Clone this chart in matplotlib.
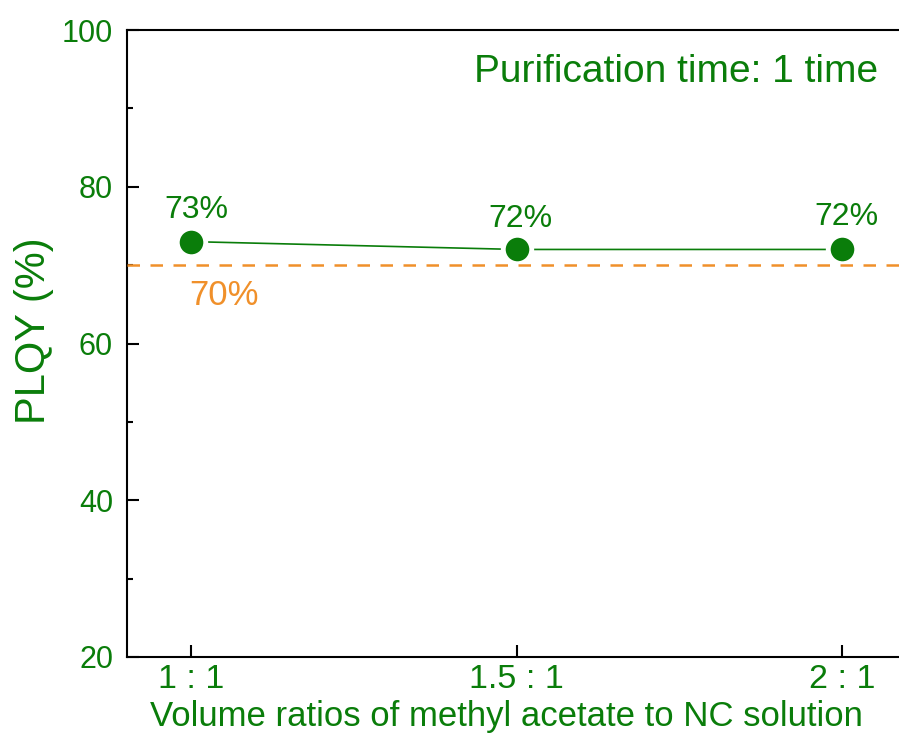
import matplotlib
matplotlib.use("Agg")
import matplotlib.pyplot as plt
from matplotlib.ticker import MultipleLocator

plt.rcParams['font.family'] = ['Liberation Sans', 'DejaVu Sans']

categories = ["1 : 1", "1.5 : 1", "2 : 1"]
plqy = [73, 72, 72]
labels = ["73%", "72%", "72%"]
ref_value = 70
ref_label = "70%"
annotation = "Purification time: 1 time"
xlabel = "Volume ratios of methyl acetate to NC solution"
ylabel = "PLQY (%)"

green = "#0a7d0a"
orange = "#f0902a"

W, H = 899, 735
L, R, T, B = 127, 907, 30, 657
fig = plt.figure(figsize=(W/100, H/100), dpi=100)
ax = fig.add_axes([L/W, (H-B)/H, (R-L)/W, (B-T)/H])

def ax_x(px):
    return (px - L) / (R - L)

def ax_y(py):
    return (B - py) / (B - T)

x = list(range(len(categories)))
ax.plot(x, plqy, color=green, lw=1.2, zorder=2)
ax.plot(x, plqy, 'o', color=green, ms=20.5, mec='white', mew=3.5, zorder=3)
ax.axhline(ref_value, color=orange, lw=1.8, ls=(0, (5, 4.2)), zorder=4)

offsets = [(4, 17), (2.5, 16), (3, 17.5)]
for xi, yi, lab, off in zip(x, plqy, labels, offsets):
    ax.annotate(lab, (xi, yi), xytext=off, textcoords='offset points',
                ha='center', va='baseline', color=green, fontsize=23)
ax.annotate(ref_label, (0, ref_value), xytext=(24, -29), textcoords='offset points',
            ha='center', va='baseline', color=orange, fontsize=25)
ax.text(ax_x(878), ax_y(82), annotation, transform=ax.transAxes,
        ha='right', va='baseline', color=green, fontsize=28)

ax.set_xlim(-0.197, 2.2)
ax.set_ylim(20, 100)
ax.set_xticks(x)
ax.set_xticklabels(categories)
ax.yaxis.set_major_locator(MultipleLocator(20))
ax.yaxis.set_minor_locator(MultipleLocator(10))

for s in ['left', 'bottom', 'top', 'right']:
    ax.spines[s].set_linewidth(1.5)
ax.tick_params(axis='both', which='major', direction='in', length=8.5, width=1.5,
               labelcolor=green, top=False, right=False)
ax.tick_params(axis='y', which='major', pad=10, labelsize=22)
ax.tick_params(axis='x', which='major', pad=5, labelsize=24.5)
ax.tick_params(axis='y', which='minor', direction='in', length=4.5, width=1.5)

ax.set_xlabel(xlabel, color=green, fontsize=25)
ax.xaxis.set_label_coords(ax_x(506), ax_y(726))
ax.xaxis.label.set_va('baseline')
ax.set_ylabel(ylabel, color=green, fontsize=30)
ax.yaxis.set_label_coords(ax_x(34), ax_y(331))
ax.yaxis.label.set_va('center')

fig.savefig("out.png", dpi=100)
